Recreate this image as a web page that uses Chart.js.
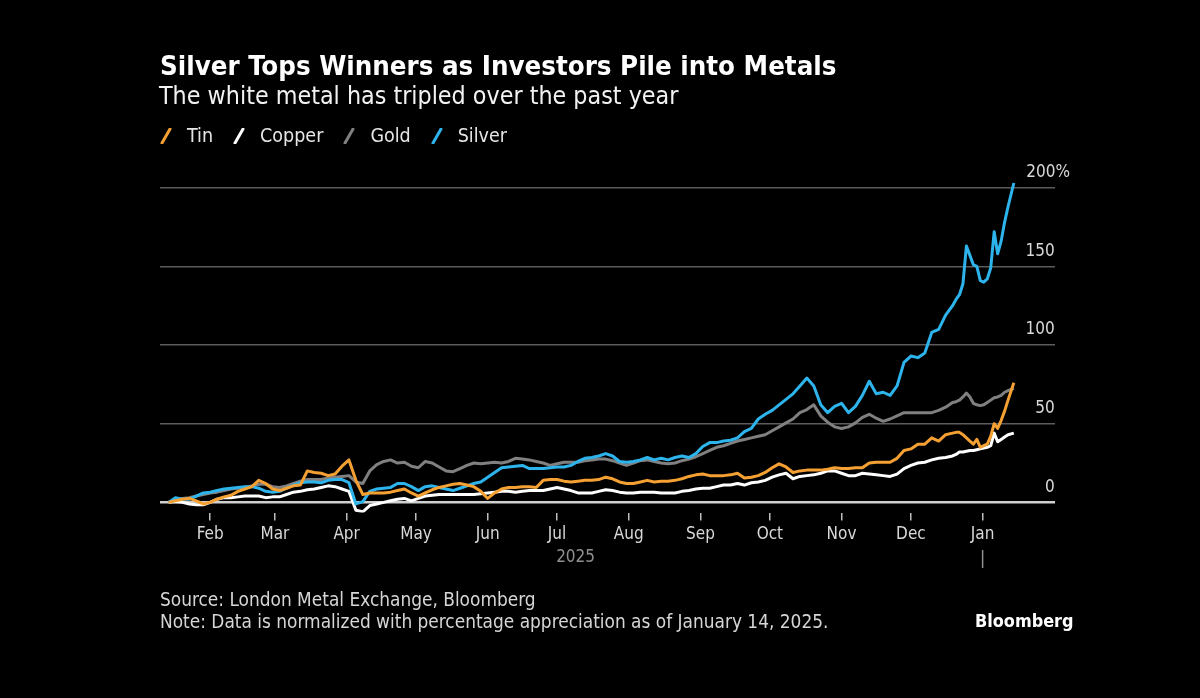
<!DOCTYPE html>
<html lang="en">
<head>
<meta charset="UTF-8">
<title>Silver Tops Winners as Investors Pile into Metals</title>
<script src="https://cdn.jsdelivr.net/npm/chart.js"></script>
<style>
  body { margin: 0; background: #000; width: 1200px; height: 698px; overflow: hidden; position: relative;
         font-family: "DejaVu Sans Condensed", "DejaVu Sans", sans-serif; color: #fff; }
  #chart { position: absolute; left: 0; top: 0; }
  .title { position: absolute; left: 160px; top: 50px; font-size: 27.4px; font-weight: bold; line-height: 32px; white-space: nowrap; }
  .subtitle { position: absolute; left: 159px; top: 81px; font-size: 24.8px; line-height: 30px; color: #f2f2f2; white-space: nowrap; }
  .legend { position: absolute; left: 160px; top: 123px; display: flex; font-size: 19.5px; line-height: 26px; color: #e6e6e6; }
  .legend .item { display: flex; align-items: center; margin-right: 20px; }
  .legend svg { margin-right: 15px; }
  .foot { position: absolute; left: 160px; top: 589px; font-size: 18.9px; line-height: 21.5px; color: #d6d6d6; white-space: nowrap; }
  .brand { position: absolute; left: 975px; top: 610px; font-size: 17.9px; line-height: 21px; font-weight: bold; color: #fff; }
</style>
</head>
<body>
<canvas id="chart" width="1200" height="698"></canvas>
<div class="title">Silver Tops Winners as Investors Pile into Metals</div>
<div class="subtitle">The white metal has tripled over the past year</div>
<div class="legend" id="legend"></div>
<div class="foot">Source: London Metal Exchange, Bloomberg<br>Note: Data is normalized with percentage appreciation as of January 14, 2025.</div>
<div class="brand">Bloomberg</div>

<script>
// days since Jan 14, 2025
const days = [0,3,6,9,12,15,18,21,24,27,30,33,36,39,42,45,48,51,54,57,60,63,66,69,72,75,78,81,84,87,
  90,93,96,99,102,105,108,111,114,117,120,123,126,129,132,135,138,141,144,147,150,153,156,159,162,165,168,171,174,177,
  180,183,186,189,192,195,198,201,204,207,210,213,216,219,222,225,228,231,234,237,240,243,246,249,252,255,258,261,264,267,
  270,273,276,279,282,285,288,291,294,297,300,303,306,309,312,315,318,321,324,327,330,333,336,339,
  340.5,342,343.5,345,346.5,348,349.5,351,352.5,354,355.5,357,358.5,360,361.5,363,365.5];

// percentage appreciation
const silver = [0,3,2,2,4,6,6.5,7.5,8.5,9, 9.5,10,10,9,7,6.5,7,9,11,12.5, 13,13,12.5,14,14.5,14.5,12.5,-1,0.5,7,
  8.5,9,9.5,12,12,10,7.5,10,10.5,9.5, 8.5,7.5,9,10.5,12,13,16,19,22,22.5, 23,23.5,21.5,21.5,21.5,22,22.5,22.5,23.5,26,
  28,28.5,29.5,31,29.5,26,25.5,26,27,28.5, 27,28,27,28.5,29.5,28.5,31,35.5,38,38, 39,39.5,41,45,47,53,56,58.5,62,65.5,
  69,74,79,74,62,57,61,63,57,61, 68,77,69,70,68,74,89,93,92,95, 108,110,119,125,
  129,132,139,163,157,151,150,141,140,142,149,172,158,166,178,188,203];

const gold = [0,2,2.5,3,4,5,6,6.5,7.5,8.5, 9,9.5,10.5,11.5,11.5,10,9.5,10.5,12,13.5, 14.5,14.5,14.5,15.5,16,16.5,17,13,12,20,
  24,26,27,25,25.5,23,22,26,25,22.5, 20,19.5,21.5,23.5,25,24.5,25,25.5,25,26, 28,27.5,27,26,25,23.5,24.5,25.5,25.5,25.5,
  26.5,27,27.5,27.5,26.5,25,23.5,25,26.5,27, 26,25,24.5,25,26.5,27.5,29,31,33,35, 36,37.5,39,40,41,42,43,45.5,48,50.5,
  53,57,59,62,55,51,48,47,48,50.5, 54,56,53.5,51.5,53,55,57,57,57,57, 57,58.5,60.5,63.5,
  64,65,67,69.5,67,63,62,61.5,62,63.5,65,66.5,67,68,70,71,72.5];

const tin = [0,1,2,2.5,1,-1,0,2,3.5,4.5, 7,8.5,10,14,12,8.5,7.5,9,10.5,11, 20,19,18.5,17,18,23,27,14,5,6,
  6,6,6.5,7.5,8.5,6,4,6,8,9.5, 10.5,11.5,12,11,10,7,2.5,6,8.5,9.5, 9.5,10,10,9.5,14,14.5,14.5,13.5,13,13.5,
  14,14,14.5,16,15,13,12,12,13,14, 13,13.5,13.5,14,15,16.5,17.5,18,17,17, 17,17.5,18.5,15.5,16,17,19,22,24.5,22.5,
  19,20,20.5,20.5,20.5,21,22,21.5,21.5,22, 22,25,25.5,25.5,25.5,28,33,34,37,37, 41,39,43,44,
  44.5,44.5,43,41,39,37,40,35,36,37,42,50,47,52,58,65,76];

const copper = [0,0.5,0,-1,-1.5,-1.5,0,2,3,3, 3.5,4,4,4,3,3.5,3.5,5,6.5,7, 8,8.5,9.5,10.5,10,8.5,7,-5,-6,-2,
  -1,0,1,2,2.5,1,2.5,4,4.5,5, 5,5,5,5,5,5.5,6,6.5,7,7, 6.5,7,7.5,7.5,7.5,8.5,9.5,8.5,7.5,6,
  6,6,7,8,7.5,6.5,6,6,6.5,6.5, 6.5,6,6,6,7,7.5,8.5,9,9,10, 11,11,12,11,12.5,13,14,16,17.5,18.5,
  15,16.5,17,17.5,18.5,20,20,18.5,17,17, 18.5,18,17.5,17,16.5,18,21.5,23.5,25,25.5, 27,28,28.5,29.5,
  30.5,32,32,32.5,33,33,33.5,34,34.5,35,36,44,38.5,40,41.5,43,44];

// axis ticks
const monthDays = [18, 46, 77, 107, 138, 168, 199, 230, 260, 291, 321, 352];
const monthLabels = ['Feb', 'Mar', 'Apr', 'May', 'Jun', 'Jul', 'Aug', 'Sep', 'Oct', 'Nov', 'Dec', 'Jan'];
const yearLabel = '2025';
const newYearDay = 352;
const yTicks = [0, 50, 100, 150, 200];

const seriesNames = ['Tin', 'Copper', 'Gold', 'Silver'];
const seriesColors = ['#f5a033', '#ffffff', '#808080', '#2eb4ec'];
const seriesData = [tin, copper, gold, silver];
const drawOrder = [1, 3, 4, 2];

// legend
const legendEl = document.getElementById('legend');
seriesNames.forEach((name, i) => {
  const item = document.createElement('div');
  item.className = 'item';
  item.innerHTML = '<svg width="12" height="16"><line x1="2" y1="15" x2="10" y2="1" stroke="' +
    seriesColors[i] + '" stroke-width="3" stroke-linecap="round"/></svg><span>' + name + '</span>';
  legendEl.appendChild(item);
});

const fontFamily = '"DejaVu Sans Condensed", "DejaVu Sans", sans-serif';
Chart.defaults.font.family = fontFamily;

const yearMarks = {
  id: 'yearMarks',
  afterDraw(chart) {
    const x = chart.scales.x;
    const ctx = chart.ctx;
    const start = x.getPixelForValue(days[0]);
    const jan = x.getPixelForValue(newYearDay);
    ctx.save();
    ctx.fillStyle = '#8f8f8f';
    ctx.font = '17px ' + fontFamily;
    ctx.textAlign = 'center';
    ctx.textBaseline = 'middle';
    ctx.fillText(yearLabel, (start + jan) / 2, x.bottom + 9);
    ctx.strokeStyle = '#8f8f8f';
    ctx.lineWidth = 1.5;
    ctx.beginPath();
    ctx.moveTo(jan, x.bottom + 1);
    ctx.lineTo(jan, x.bottom + 19);
    ctx.stroke();
    ctx.restore();
  }
};

new Chart(document.getElementById('chart').getContext('2d'), {
  type: 'line',
  data: {
    labels: days,
    datasets: seriesNames.map((name, i) => ({
      label: name,
      data: seriesData[i].map((v, j) => ({ x: days[j], y: v })),
      borderColor: seriesColors[i],
      borderWidth: 3,
      pointRadius: 0,
      tension: 0,
      fill: false,
      borderJoinStyle: 'round',
      order: drawOrder[i]
    }))
  },
  options: {
    responsive: false,
    animation: false,
    layout: { padding: { left: 160, right: 115, top: 172, bottom: 149 } },
    plugins: { legend: { display: false }, tooltip: { enabled: false } },
    scales: {
      x: {
        type: 'linear',
        min: -3.7,
        max: 383.3,
        afterBuildTicks: s => { s.ticks = monthDays.map(v => ({ value: v })); },
        grid: { drawOnChartArea: false, drawTicks: true, tickLength: 8, color: '#bdbdbd', lineWidth: 1.5 },
        border: { display: false },
        ticks: {
          autoSkip: false,
          maxRotation: 0,
          padding: 4,
          color: '#d9d9d9',
          font: { size: 17 },
          callback: v => monthLabels[monthDays.indexOf(v)]
        }
      },
      y: {
        position: 'right',
        min: -6.5,
        max: 210,
        afterBuildTicks: s => { s.ticks = yTicks.map(v => ({ value: v })); },
        grid: {
          drawTicks: false,
          color: c => (c.tick && c.tick.value === 0) ? '#cfcfcf' : '#5c5c5c',
          lineWidth: c => (c.tick && c.tick.value === 0) ? 2.5 : 1.5
        },
        border: { display: false },
        ticks: {
          mirror: true,
          padding: 15,
          labelOffset: -15,
          color: '#d9d9d9',
          font: { size: 17 },
          callback: v => v === 200 ? '200%' : v + '\u2003'
        }
      }
    }
  },
  plugins: [yearMarks]
});
</script>
</body>
</html>
